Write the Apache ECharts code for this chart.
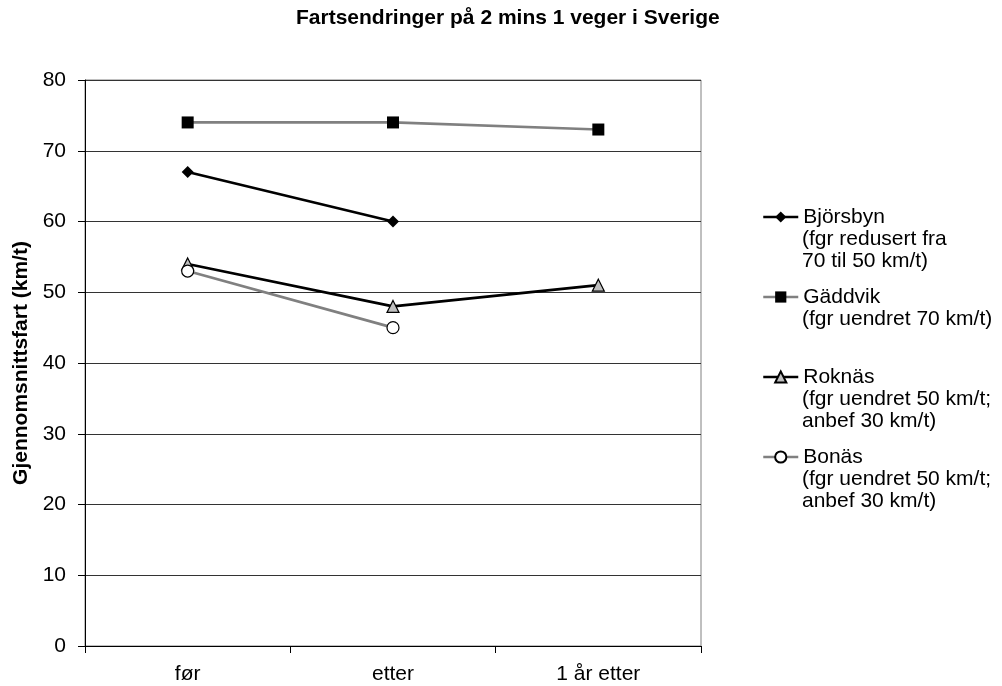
<!DOCTYPE html>
<html>
<head>
<meta charset="utf-8">
<script src="https://cdn.jsdelivr.net/npm/echarts@6/dist/echarts.min.js"></script>
<style>html,body{margin:0;padding:0;background:#fff}#c{width:1002px;height:686px}</style>
</head>
<body>
<div id="c"></div>
<script>
const categories = ['før', 'etter', '1 år etter'];
const bjorsbyn = [67, 60, null];
const gaddvik = [74, 74, 73];
const roknas = [54, 48, 51];
const bonas = [53, 45, null];
const seriesNames = ['Björsbyn', 'Gäddvik', 'Roknäs', 'Bonäs'];
const seriesNotes = [
  ['(fgr redusert fra', '70 til 50 km/t)'],
  ['(fgr uendret 70 km/t)'],
  ['(fgr uendret 50 km/t;', 'anbef 30 km/t)'],
  ['(fgr uendret 50 km/t;', 'anbef 30 km/t)']
];
const yTicks = [0, 10, 20, 30, 40, 50, 60, 70, 80];

const FONT = 'Liberation Sans, Arial, sans-serif';
const FS = 21;
const chart = echarts.init(document.getElementById('c'), null, {renderer: 'canvas'});

const legendTop = 206, legendStep = 80, lineH = 22, textLeft = 802;
const graphics = seriesNotes.map((lines, i) => ({
  type: 'text',
  left: textLeft,
  top: legendTop + i * legendStep + lineH,
  style: {text: lines.join('\n'), font: FS + 'px ' + FONT, fill: '#000', lineHeight: lineH}
}));

function mk(name, data, lineColor, symbol, size, fill) {
  return {
    name, type: 'line', data, connectNulls: false,
    symbol, symbolSize: size,
    lineStyle: {color: lineColor, width: 2.7},
    itemStyle: {color: fill, borderColor: '#000', borderWidth: fill === '#000' ? 0 : 1.2},
    emphasis: {disabled: true}, animation: false
  };
}

chart.setOption({
  animation: false,
  title: {
    text: 'Fartsendringer på 2 mins 1 veger i Sverige',
    left: 296, top: 8, padding: 0,
    textStyle: {fontFamily: FONT, fontWeight: 'bold', fontSize: FS, color: '#000'}
  },
  grid: {left: 85, right: 301, top: 80, bottom: 40, show: true, borderColor: '#808080', borderWidth: 1, containLabel: false},
  legend: {
    orient: 'vertical', left: 762, top: legendTop, itemGap: legendStep - lineH, padding: 0,
    itemWidth: 35, itemHeight: 14,
    lineStyle: {width: 2.5},
    textStyle: {fontFamily: FONT, fontSize: FS, color: '#000', lineHeight: lineH},
    data: seriesNames, selectedMode: false
  },
  xAxis: {
    type: 'category', data: categories, boundaryGap: true,
    axisLine: {lineStyle: {color: '#000', width: 1}},
    axisTick: {show: true, length: 7, lineStyle: {color: '#000'}},
    axisLabel: {fontFamily: FONT, fontSize: FS, color: '#000', margin: 18},
    splitLine: {show: false}
  },
  yAxis: {
    type: 'value', min: yTicks[0], max: yTicks[yTicks.length - 1], interval: 10,
    name: 'Gjennomsnittsfart (km/t)', nameLocation: 'middle', nameGap: 52,
    nameTextStyle: {fontFamily: FONT, fontWeight: 'bold', fontSize: FS, color: '#000'},
    axisLine: {show: true, lineStyle: {color: '#000', width: 1}},
    axisTick: {show: true, length: 7, lineStyle: {color: '#000'}},
    axisLabel: {fontFamily: FONT, fontSize: FS, color: '#000', margin: 19},
    splitLine: {show: true, lineStyle: {color: '#333', width: 1}}
  },
  graphic: graphics,
  series: [
    mk(seriesNames[0], bjorsbyn, '#000', 'diamond', 12, '#000'),
    mk(seriesNames[1], gaddvik, '#808080', 'rect', 12, '#000'),
    mk(seriesNames[2], roknas, '#000', 'triangle', 12, '#c0c0c0'),
    mk(seriesNames[3], bonas, '#808080', 'circle', 12, '#fff')
  ]
});
</script>
</body>
</html>
